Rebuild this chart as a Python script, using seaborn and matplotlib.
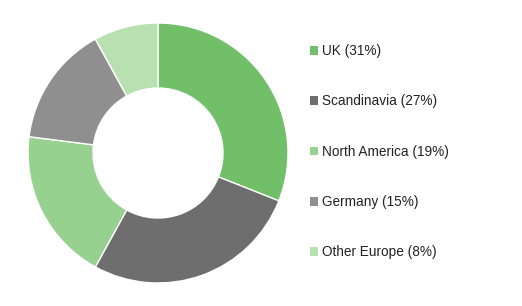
import matplotlib
matplotlib.use("Agg")
import matplotlib.pyplot as plt
import seaborn as sns
from matplotlib.patches import Rectangle

categories = ["UK", "Scandinavia", "North America", "Germany", "Other Europe"]
values = [31, 27, 19, 15, 8]
colors = ["#72BF6A", "#6E6E6E", "#97D18F", "#8F8F8F", "#B8E0B1"]

sns.set_theme(style="white")
plt.rcParams["font.family"] = ["Liberation Sans", "DejaVu Sans"]

W, H = 522, 306
fig = plt.figure(figsize=(W / 100, H / 100), dpi=100)
cx, cy, r = 158, 153, 130
ax = fig.add_axes([(cx - r) / W, (H - cy - r) / H, 2 * r / W, 2 * r / H])
ax.pie(values, colors=colors, startangle=90, counterclock=False,
       wedgeprops=dict(width=0.5, edgecolor="white", linewidth=1))
ax.set_xlim(-1, 1)
ax.set_ylim(-1, 1)
ax.set_aspect("equal")
ax.axis("off")

handles = [Rectangle((0, 0), 1, 1, facecolor=c, edgecolor="none") for c in colors]
labels = [f"{c} ({v}%)" for c, v in zip(categories, values)]
fig.legend(handles, labels, loc="upper left", bbox_to_anchor=(310 / W, 1 - 44 / H),
           frameon=False, fontsize=9.8, handlelength=0.6, handleheight=0.6,
           handletextpad=0.3, labelspacing=2.67, borderaxespad=0, borderpad=0,
           labelcolor="#222222")

fig.savefig("out.png", dpi=100, facecolor="white")
